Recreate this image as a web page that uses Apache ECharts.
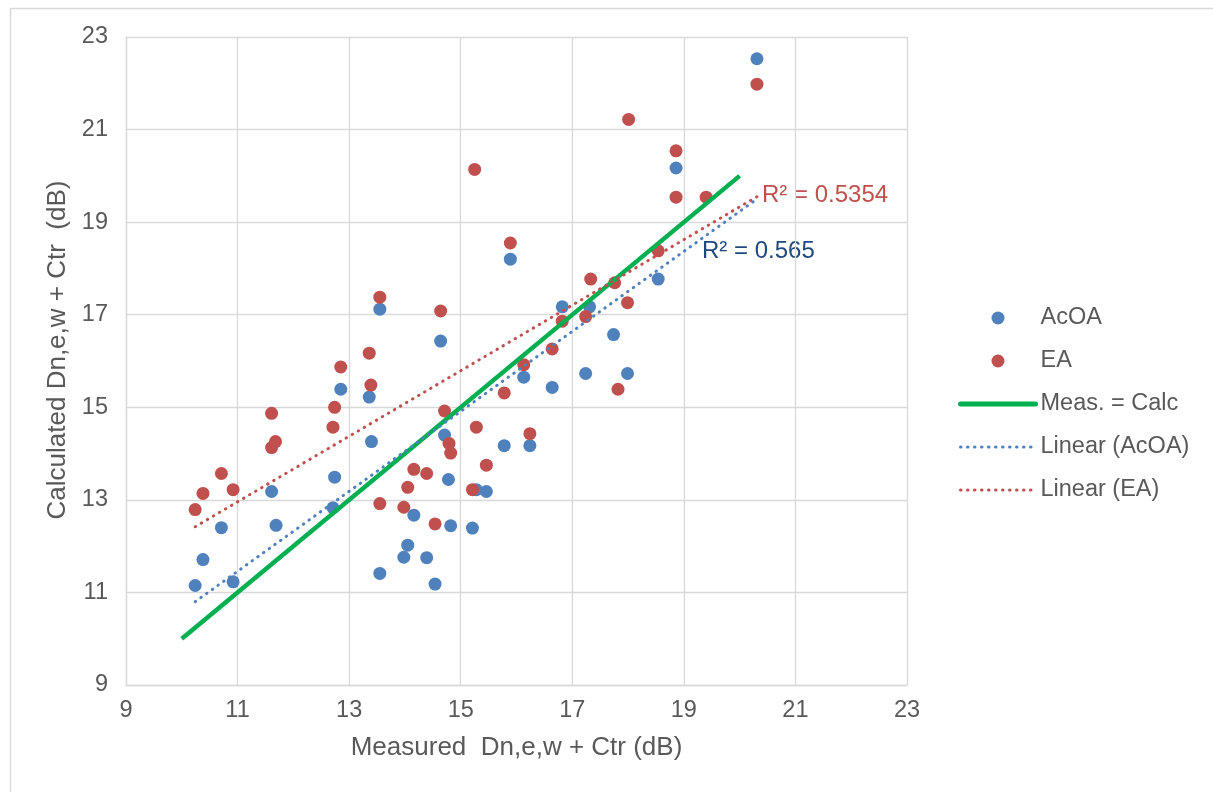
<!DOCTYPE html>
<html>
<head>
<meta charset="utf-8">
<script src="https://cdn.jsdelivr.net/npm/echarts@6/dist/echarts.min.js"></script>
<style>
html,body{margin:0;padding:0;background:#fff;}
#chart{width:1213px;height:792px;}
</style>
</head>
<body>
<div id="chart"></div>
<script>
// Measured vs calculated values (dB)
const acoaX = [13.55,12.85,13.36,13.40,12.74,11.61,12.71,10.71,11.69,10.38,10.24,10.92,14.16,14.05,13.98,13.55,14.64,14.71,14.78,14.39,14.54,14.82,15.21,15.28,15.46,15.78,16.24,16.13,16.64,16.82,17.31,17.74,17.24,17.99,18.86,15.89,18.54,20.31];
const acoaY = [17.12,15.39,15.22,14.26,13.49,13.18,12.83,12.40,12.45,11.71,11.15,11.23,12.67,12.02,11.76,11.41,16.43,14.40,13.44,11.75,11.18,12.44,12.39,13.22,13.18,14.17,14.17,15.65,15.43,17.17,17.17,16.57,15.73,15.73,20.17,18.20,17.77,22.53];
const eaX = [13.55,13.36,12.85,13.39,12.74,12.71,11.61,11.68,11.61,10.71,10.38,10.92,10.24,13.55,14.16,14.05,13.98,14.64,14.71,15.28,14.79,14.82,14.39,15.46,15.21,14.54,16.24,15.78,16.13,16.64,16.82,17.24,17.33,17.76,17.99,17.82,15.25,18.01,18.86,18.86,19.40,15.89,18.54,20.31];
const eaY = [17.38,16.17,15.87,15.48,15.00,14.57,14.87,14.26,14.13,13.57,13.14,13.22,12.79,12.92,13.66,13.27,12.84,17.08,14.92,14.57,14.22,14.01,13.57,13.75,13.22,12.48,14.43,15.31,15.92,16.26,16.86,16.96,17.77,17.69,17.26,15.39,20.14,21.22,20.54,19.54,19.54,18.55,18.38,21.98];
const equalityLine = [[10,10],[20,20]];
const trendAcOA = [[10.24,10.80],[20.31,19.50]];
const trendEA = [[10.24,12.42],[20.31,19.55]];
const axisTicks = [9,11,13,15,17,19,21,23];
const r2AcOA = 'R² = 0.565';
const r2EA = 'R² = 0.5354';

const FONT = '"Liberation Sans", Arial, sans-serif';
const GRAY = '#595959';
const GRID = '#d9d9d9';
const BLUE = '#4F81BD';
const RED = '#C0504D';
const GREEN = '#00B050';

const zip = (xs, ys) => xs.map((x, i) => [x, ys[i]]);

const chart = echarts.init(document.getElementById('chart'), null, {renderer: 'canvas'});

const axisCommon = {
  type: 'value',
  min: axisTicks[0],
  max: axisTicks[axisTicks.length - 1],
  interval: axisTicks[1] - axisTicks[0],
  axisLine: {show: true, lineStyle: {color: GRID, width: 1.3}},
  axisTick: {show: false},
  splitLine: {show: true, lineStyle: {color: GRID, width: 1.3}},
  nameLocation: 'middle',
  nameTextStyle: {fontFamily: FONT, fontSize: 26, color: GRAY}
};

const hiddenSymbol = {color: 'rgba(0,0,0,0)', borderColor: 'rgba(0,0,0,0)', borderWidth: 0};

chart.setOption({
  animation: false,
  backgroundColor: '#fff',
  textStyle: {fontFamily: FONT},
  grid: {left: 126, top: 37, width: 781, height: 648, containLabel: false},
  xAxis: Object.assign({}, axisCommon, {
    name: 'Measured  Dn,e,w + Ctr (dB)',
    nameGap: 50,
    axisLabel: {fontFamily: FONT, fontSize: 23.5, color: GRAY, margin: 14}
  }),
  yAxis: Object.assign({}, axisCommon, {
    name: 'Calculated Dn,e,w + Ctr  (dB)',
    nameGap: 48,
    nameTextStyle: {fontFamily: FONT, fontSize: 26, color: GRAY, padding: [0, 0, 0, 22]},
    axisLabel: {fontFamily: FONT, fontSize: 23.5, color: GRAY, margin: 18}
  }),
  legend: {
    orient: 'vertical',
    left: 953,
    top: 300,
    itemWidth: 75,
    itemHeight: 13,
    itemGap: 17,
    textStyle: {fontFamily: FONT, fontSize: 23.5, color: GRAY, lineHeight: 26},
    data: [
      {name: 'AcOA'},
      {name: 'EA'},
      {name: 'Meas. = Calc', itemStyle: hiddenSymbol, lineStyle: {width: 5, color: GREEN, cap: 'round'}},
      {name: 'Linear (AcOA)', itemStyle: hiddenSymbol, lineStyle: {width: 3, color: BLUE, type: [0.5, 6.5], cap: 'round'}},
      {name: 'Linear (EA)', itemStyle: hiddenSymbol, lineStyle: {width: 3, color: RED, type: [0.5, 6.5], cap: 'round'}}
    ]
  },
  series: [
    {name: 'AcOA', type: 'scatter', symbol: 'circle', symbolSize: 13, itemStyle: {color: BLUE, opacity: 1}, data: zip(acoaX, acoaY), z: 2},
    {name: 'EA', type: 'scatter', symbol: 'circle', symbolSize: 13, itemStyle: {color: RED, opacity: 1}, data: zip(eaX, eaY), z: 3},
    {name: 'Meas. = Calc', type: 'line', symbol: 'none', lineStyle: {color: GREEN, width: 4.5}, itemStyle: {color: GREEN}, data: equalityLine, z: 4},
    {name: 'Linear (AcOA)', type: 'line', symbol: 'none', lineStyle: {color: BLUE, width: 3, type: [0.5, 6.5], cap: 'round'}, itemStyle: {color: BLUE}, data: trendAcOA, z: 5},
    {name: 'Linear (EA)', type: 'line', symbol: 'none', lineStyle: {color: RED, width: 3, type: [0.5, 6.5], cap: 'round'}, itemStyle: {color: RED}, data: trendEA, z: 6}
  ],
  graphic: [
    {type: 'rect', left: 8, top: 6, shape: {width: 1400, height: 1000}, style: {fill: 'none', stroke: GRID, lineWidth: 1.5}, silent: true, z: -10},
    {type: 'text', left: 762, top: 183, style: {text: r2EA, fill: RED, font: '24px ' + FONT}},
    {type: 'text', left: 702, top: 239, style: {text: r2AcOA, fill: '#1F497D', font: '24px ' + FONT}}
  ]
});
</script>
</body>
</html>
